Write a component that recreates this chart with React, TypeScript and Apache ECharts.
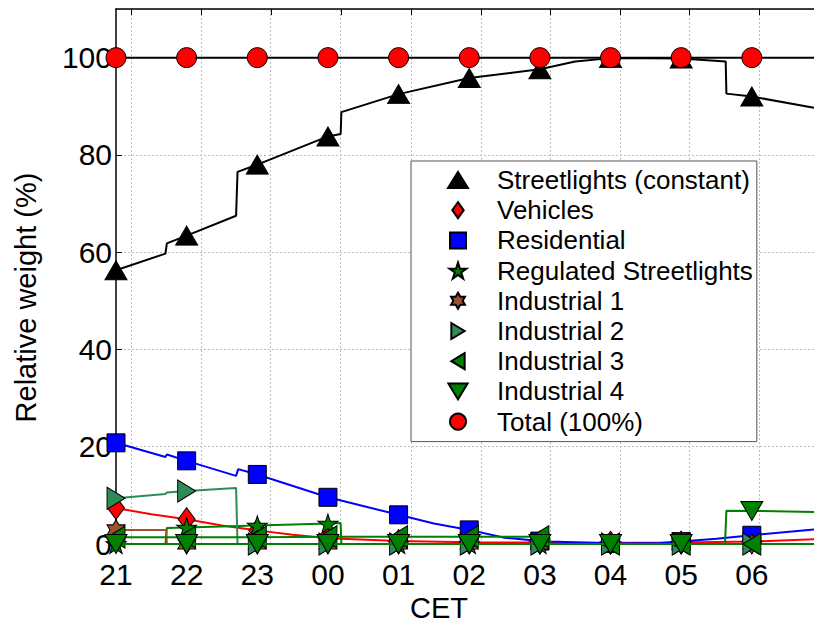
import React, { useEffect, useRef } from 'react';
import * as echarts from 'echarts';

// x = hours after 21:00 CET, y = relative weight (%)
const hourLabels = ['21', '22', '23', '00', '01', '02', '03', '04', '05', '06'];
const gridHours = [0.222, 1.204, 2.195, 3.183, 4.178, 5.166, 6.147, 7.139, 8.12, 9.108];
const X_MAX = 9.88;
const Y_MAX = 110;

const seriesNames = [
  'Streetlights (constant)',
  'Vehicles',
  'Residential',
  'Regulated Streetlights',
  'Industrial 1',
  'Industrial 2',
  'Industrial 3',
  'Industrial 4',
  'Total (100%)',
];

const streetlights = [
  [0, 56.3], [0.7, 59.7], [0.72, 61.8], [1, 63.4], [1.7, 67.5], [1.72, 76.5], [2, 78.0],
  [3, 83.8], [3.18, 84.3], [3.19, 88.8], [4, 92.5], [5, 95.8], [6, 97.6], [6.5, 99.2],
  [7, 99.9], [8, 99.8], [8.63, 99.2], [8.64, 92.6], [9, 92.0], [9.88, 89.7],
];
const vehicles = [
  [0, 7.4], [0.5, 6.1], [1, 5.1], [1.5, 3.8], [2, 2.8], [2.5, 1.9], [3, 1.2], [4, 0.6],
  [5, 0.35], [6, 0.3], [7, 0.25], [8, 0.3], [9, 0.5], [9.88, 1.0],
];
const residential = [
  [0, 20.8], [0.7, 17.9], [0.72, 18.4], [1, 17.1], [1.7, 14.0], [1.73, 15.4], [2, 14.3],
  [3, 9.6], [4, 6.0], [4.5, 4.2], [5, 2.9], [5.5, 1.3], [6, 0.6], [6.15, 0.5], [7, 0.1],
  [7.7, 0.2], [8, 0.5], [8.5, 1.1], [9, 1.8], [9.88, 3.0],
];
const regulated = [
  [0, 0], [0.7, 0], [0.72, 3.3], [1, 3.4], [2, 3.8], [3, 4.2], [3.18, 4.3], [3.19, 0],
  [4, 0], [5, 0], [6, 0], [7, 0], [8, 0], [9, 0], [9.88, 0],
];
const industrial1 = [
  [0, 2.9], [0.71, 2.9], [0.72, 0], [1, 0], [2, 0], [3, 0], [4, 0], [5, 0], [6, 0],
  [7, 0], [8, 0], [9, 0], [9.88, 0],
];
const industrial2 = [
  [0, 9.4], [0.7, 10.3], [0.72, 10.6], [1, 10.9], [1.7, 11.5], [1.72, 0], [2, 0], [3, 0],
  [4, 0], [5, 0], [6, 0], [7, 0], [8, 0], [9, 0], [9.88, 0],
];
const industrial3 = [
  [0, 1.4], [1, 1.4], [2, 1.4], [3, 1.5], [4, 1.5], [5, 1.5], [6, 1.5], [6.13, 1.5],
  [6.15, 0], [7, 0], [8, 0], [9, 0], [9.88, 0],
];
const industrial4 = [
  [0, 0], [1, 0], [2, 0], [3, 0], [4, 0], [5, 0], [6, 0], [7, 0], [8, 0], [8.62, 0],
  [8.64, 6.85], [9, 6.8], [9.88, 6.6],
];
const total = [
  [0, 100], [1, 100], [2, 100], [3, 100], [4, 100], [5, 100], [6, 100], [7, 100], [8, 100],
  [9, 100], [9.88, 100],
];

const FONT = '"Liberation Sans", Arial, Helvetica, sans-serif';

const STAR =
  'path://M10,0L12.25,6.91L19.51,6.91L13.63,11.18L15.88,18.09L10,13.82L4.12,18.09L6.37,11.18L0.49,6.91L7.75,6.91Z';
const HEX =
  'path://M10,0L12.89,5L18.66,5L15.77,10L18.66,15L12.89,15L10,20L7.11,15L1.34,15L4.23,10L1.34,5L7.11,5Z';
const RIGHT = 'path://M0,0L10,6L0,12Z';
const LEFT = 'path://M10,0L0,6L10,12Z';
const DOWN = 'path://M0,0L12,0L6,10Z';
const DIAMOND = 'path://M5,0L10,7L5,14L0,7Z';
const SQUARE = 'path://M0,0L10,0L10,10L0,10Z';

const styles = [
  { fill: '#000000', line: '#000000', symbol: 'triangle', size: [22, 19], icon: 'triangle' },
  { fill: '#ff0000', line: '#ff0000', symbol: 'diamond', size: [17, 23], icon: DIAMOND },
  { fill: '#0000ff', line: '#0000ff', symbol: 'rect', size: [18, 18], icon: SQUARE },
  { fill: '#008000', line: '#008000', symbol: STAR, size: [20, 19], icon: STAR },
  { fill: '#a0522d', line: '#a0522d', symbol: HEX, size: [18, 20], icon: HEX },
  { fill: '#2e8b57', line: '#2e8b57', symbol: RIGHT, size: [18, 22], icon: RIGHT },
  { fill: '#008000', line: '#008000', symbol: LEFT, size: [18, 22], icon: LEFT },
  { fill: '#008000', line: '#008000', symbol: DOWN, size: [22, 19], icon: DOWN },
  { fill: '#ff0000', line: '#000000', symbol: 'circle', size: 20, icon: 'circle' },
];

const seriesData = [
  streetlights, vehicles, residential, regulated, industrial1, industrial2, industrial3, industrial4, total,
];

const isHour = (h: number) => Math.abs(h - Math.round(h)) < 1e-9 && h <= hourLabels.length - 1;

export default function App() {
  const ref = useRef<HTMLDivElement>(null);
  useEffect(() => {
    const chart = echarts.init(ref.current!, null, { renderer: 'svg' });

    const series: any[] = seriesData.map((pts, i) => {
      const st = styles[i];
      const s: any = {
        name: seriesNames[i],
        type: 'line',
        z: 2 + i,
        clip: false,
        showSymbol: true,
        symbol: st.symbol,
        symbolSize: st.size,
        data: pts.map(([h, v]) => (isHour(h) ? { value: [h, v] } : { value: [h, v], symbol: 'none' })),
        itemStyle: { color: st.fill, borderColor: '#000', borderWidth: 1, opacity: 1 },
        lineStyle: { color: st.line, width: 2 },
        emphasis: { disabled: true },
        silent: true,
      };
      if (i === 0) {
        s.markLine = {
          silent: true,
          z: 0,
          symbol: ['none', 'none'],
          label: { show: false },
          lineStyle: { color: '#bdbdbd', type: [2, 2], width: 1 },
          data: gridHours.map((g) => ({ xAxis: g })),
        };
      }
      if (i === 1) {
        s.markLine = {
          silent: true,
          z: 20,
          symbol: ['none', 'none'],
          label: { show: false },
          lineStyle: { color: '#000', type: 'solid', width: 1 },
          data: gridHours.map((g) => [{ coord: [g, Y_MAX] }, { coord: [g, Y_MAX - 1.25] }]),
        };
      }
      return s;
    });

    const option: any = {
      animation: false,
      backgroundColor: '#ffffff',
      grid: {
        left: 116,
        right: 0,
        top: 9,
        bottom: 79,
        containLabel: false,
        outerBoundsMode: 'none',
      },
      xAxis: [
        {
          type: 'value',
          position: 'bottom',
          min: 0,
          max: X_MAX,
          interval: 1,
          name: 'CET',
          nameLocation: 'middle',
          nameGap: 41,
          nameTextStyle: {
            fontFamily: FONT,
            fontSize: 29,
            lineHeight: 28,
            color: '#000',
            padding: [0, 52, 0, 0],
          },
          axisLine: { show: true, onZero: false, lineStyle: { color: '#000', width: 1.5 } },
          axisTick: { show: false },
          splitLine: { show: false },
          axisLabel: {
            show: true,
            showMaxLabel: false,
            margin: 17,
            fontFamily: FONT,
            fontSize: 30,
            lineHeight: 26,
            color: '#000',
            formatter: (v: number) => {
              const k = Math.round(v);
              return Math.abs(v - k) < 1e-6 && k >= 0 && k < hourLabels.length ? hourLabels[k] : '';
            },
          },
        },
        {
          type: 'value',
          position: 'top',
          min: 0,
          max: X_MAX,
          axisLine: { show: true, onZero: false, lineStyle: { color: '#000', width: 1.5 } },
          axisTick: { show: false },
          axisLabel: { show: false },
          splitLine: { show: false },
        },
      ],
      yAxis: {
        type: 'value',
        min: 0,
        max: Y_MAX,
        interval: 20,
        name: 'Relative weight (%)',
        nameLocation: 'middle',
        nameGap: 76,
        nameTextStyle: { fontFamily: FONT, fontSize: 29, color: '#000', padding: [0, 42, 0, 0] },
        axisLine: { show: true, onZero: false, lineStyle: { color: '#000', width: 1.5 } },
        axisTick: { show: true, inside: true, length: 6, lineStyle: { color: '#000', width: 1 } },
        splitLine: { show: true, lineStyle: { color: '#bdbdbd', type: [2, 2], width: 1 } },
        axisLabel: {
          showMaxLabel: false,
          margin: 4,
          fontFamily: FONT,
          fontSize: 30,
          lineHeight: 22,
          color: '#000',
        },
      },
      legend: {
        orient: 'vertical',
        left: 411,
        top: 161,
        z: 100,
        selectedMode: false,
        padding: [6, 4, 7, 36],
        itemWidth: 20,
        itemHeight: 16,
        itemGap: 4.2,
        backgroundColor: '#ffffff',
        borderColor: '#555555',
        borderWidth: 1,
        textStyle: { fontFamily: FONT, fontSize: 26, lineHeight: 26, color: '#000', padding: [0, 0, 0, 24] },
        data: seriesNames.map((n, i) => ({ name: n, icon: styles[i].icon })),
      },
      series,
    };

    chart.setOption(option);
    return () => chart.dispose();
  }, []);

  return (
    <div
      ref={ref}
      style={{ position: 'absolute', left: 0, top: 0, width: 814, height: 623, background: '#fff' }}
    />
  );
}
